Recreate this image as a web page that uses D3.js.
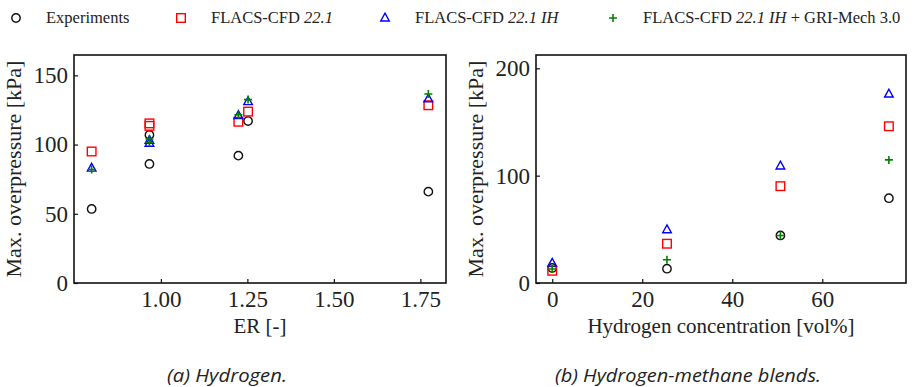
<!DOCTYPE html>
<html>
<head>
<meta charset="utf-8">
<script src="https://cdn.jsdelivr.net/npm/d3@7"></script>
<style>
  body { margin: 0; background: #fff; }
  text { font-family: "Liberation Serif", "DejaVu Serif", serif; fill: #222; }
  .caption { font-family: "Open Sans", "Noto Sans", sans-serif; font-style: italic; }
</style>
</head>
<body>
<div id="chart"></div>
<script>
// left panel: hydrogen, equivalence ratio
var erValues = [0.80, 0.967, 0.967, 1.224, 1.252, 1.773]
var erExp    = [53.5, 86, 107, 92, 117, 66]
var erFlacs  = [95, 113.5, 115.3, 116.5, 123.8, 128.4]
var erIH     = [83, 101, 103, 121, 131, 133]
var erGri    = [82, 101.5, 104, 121.5, 132.5, 136.5]

// right panel: hydrogen-methane blends
var h2Values = [0, 25.5, 50.7, 74.8]
var h2Exp    = [14, 13.3, 44.3, 79]
var h2Flacs  = [11.4, 36.6, 90.2, 146]
var h2IH     = [18.5, 49.6, 109, 176]
var h2Gri    = [13, 21.7, 44.3, 114.7]

var erTicks = [1.00, 1.25, 1.50, 1.75]
var erYTicks = [0, 50, 100, 150]
var h2Ticks = [0, 20, 40, 60]
var h2YTicks = [0, 100, 200]

var width = 919, height = 387

var svg = d3.select("#chart").append("svg")
    .attr("width", width)
    .attr("height", height)

function marker(g, type) {
    if (type == "circle") {
        g.append("circle").attr("r", 4.2).attr("fill", "none").attr("stroke", "#111").attr("stroke-width", 1.4)
    } else if (type == "square") {
        g.append("rect").attr("x", -4.3).attr("y", -4.3).attr("width", 8.6).attr("height", 8.6)
            .attr("fill", "none").attr("stroke", "#f00").attr("stroke-width", 1.4)
    } else if (type == "triangle") {
        g.append("path").attr("d", "M0,-4.8L4.3,3L-4.3,3Z")
            .attr("fill", "none").attr("stroke", "#00f").attr("stroke-width", 1.4)
    } else {
        g.append("path").attr("d", "M-4,0H4M0,-4V4")
            .attr("fill", "none").attr("stroke", "#008000").attr("stroke-width", 1.6)
    }
}

function panel(opts) {
    var x = d3.scaleLinear().domain(opts.xDomain).range([opts.left, opts.right])
    var y = d3.scaleLinear().domain(opts.yDomain).range([opts.bottom, opts.top])
    var g = svg.append("g")

    // ticks pointing inward
    g.append("g")
        .attr("transform", "translate(0," + opts.bottom + ")")
        .call(d3.axisBottom(x).tickValues(opts.xTicks).tickSize(-4).tickPadding(8).tickFormat(opts.xFormat))
        .call(function(a) {
            a.select(".domain").remove()
            a.selectAll("line").attr("stroke", "#111").attr("stroke-width", 1.2)
            a.selectAll("text").attr("font-size", 23).attr("fill", "#222")
                .style("font-family", "'Liberation Serif', serif")
        })
    g.append("g")
        .attr("transform", "translate(" + opts.left + ",0)")
        .call(d3.axisLeft(y).tickValues(opts.yTicks).tickSize(-4).tickPadding(6))
        .call(function(a) {
            a.select(".domain").remove()
            a.selectAll("line").attr("stroke", "#111").attr("stroke-width", 1.2)
            a.selectAll("text").attr("font-size", 23).attr("fill", "#222")
                .style("font-family", "'Liberation Serif', serif")
        })

    g.append("rect")
        .attr("x", opts.left).attr("y", opts.top)
        .attr("width", opts.right - opts.left).attr("height", opts.bottom - opts.top)
        .attr("fill", "none").attr("stroke", "#111").attr("stroke-width", 1.6)

    var series = [
        { vals: opts.exp, type: "circle" },
        { vals: opts.flacs, type: "square" },
        { vals: opts.ih, type: "triangle" },
        { vals: opts.gri, type: "plus" }
    ]
    series.forEach(function(s) {
        g.selectAll(".m-" + s.type)
            .data(s.vals)
            .enter().append("g")
            .attr("class", "m-" + s.type)
            .attr("transform", function(d, i) { return "translate(" + x(opts.xs[i]) + "," + y(d) + ")" })
            .each(function() { marker(d3.select(this), s.type) })
    })

    g.append("text")
        .attr("x", (opts.left + opts.right) / 2).attr("y", opts.bottom + 50)
        .attr("text-anchor", "middle").attr("font-size", 21)
        .text(opts.xLabel)
    g.append("text")
        .attr("transform", "translate(" + (opts.left - 53) + "," + ((opts.top + opts.bottom) / 2) + ") rotate(-90)")
        .attr("text-anchor", "middle").attr("font-size", 22)
        .text("Max. overpressure [kPa]")
    g.append("text")
        .attr("class", "caption")
        .attr("x", opts.capX).attr("y", 382)
        .attr("text-anchor", "middle").attr("font-size", 19)
        .attr("textLength", opts.capW).attr("lengthAdjust", "spacingAndGlyphs")
        .text(opts.caption)
}

panel({
    left: 74, right: 446, top: 55, bottom: 283,
    xDomain: [0.749, 1.824], yDomain: [0, 164.7],
    xTicks: erTicks, yTicks: erYTicks, xFormat: d3.format(".2f"),
    xs: erValues, exp: erExp, flacs: erFlacs, ih: erIH, gri: erGri,
    xLabel: "ER [-]", caption: "(a) Hydrogen.", capX: 227, capW: 120
})
panel({
    left: 536, right: 906, top: 55, bottom: 283,
    xDomain: [-3.6, 78.6], yDomain: [0, 212.4],
    xTicks: h2Ticks, yTicks: h2YTicks, xFormat: d3.format("d"),
    xs: h2Values, exp: h2Exp, flacs: h2Flacs, ih: h2IH, gri: h2Gri,
    xLabel: "Hydrogen concentration [vol%]", caption: "(b) Hydrogen-methane blends.", capX: 688, capW: 266
})

// legend
var legend = [
    { type: "circle", x: 16, parts: [["Experiments", false]] },
    { type: "square", x: 181, parts: [["FLACS-CFD ", false], ["22.1", true]] },
    { type: "triangle", x: 385, parts: [["FLACS-CFD ", false], ["22.1 IH", true]] },
    { type: "plus", x: 613, parts: [["FLACS-CFD ", false], ["22.1 IH", true], [" + GRI-Mech 3.0", false]] }
]
legend.forEach(function(l) {
    var g = svg.append("g").attr("transform", "translate(" + l.x + ",18)")
    marker(g, l.type)
    var t = svg.append("text").attr("x", l.x + 30).attr("y", 23).attr("font-size", 16.5)
        .attr("xml:space", "preserve")
    l.parts.forEach(function(p) {
        t.append("tspan").attr("font-style", p[1] ? "italic" : "normal").text(p[0])
    })
})
</script>
</body>
</html>
